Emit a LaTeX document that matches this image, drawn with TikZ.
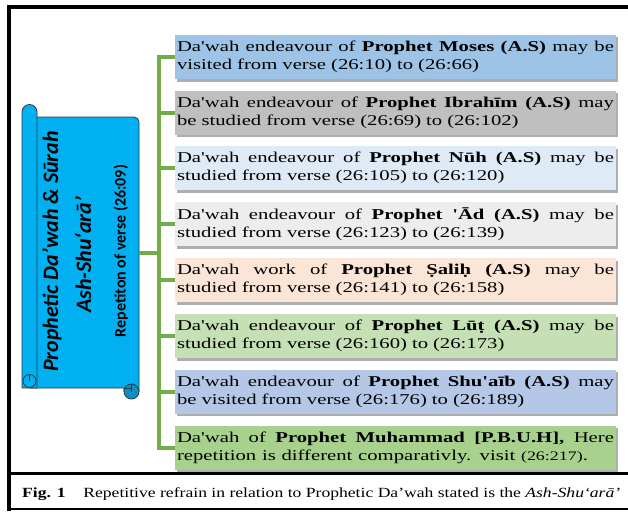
\documentclass[tikz,border=0pt]{standalone}
\usepackage{fontspec}
\usepackage{graphicx}
\usetikzlibrary{shadows}
\newfontfamily\boxfont[FakeStretch=1.38]{Liberation Serif}
\newfontfamily\capfont{Liberation Serif}
\newfontfamily\scrollfont{Carlito}
\newcommand{\fullline}[1]{\makebox[437pt][s]{\spaceskip=0pt\relax\xspaceskip=0pt\relax #1}}
\newcommand{\partline}[2]{\makebox[#1][s]{\spaceskip=0pt\relax\xspaceskip=0pt\relax #2}}
\definecolor{cA}{HTML}{9DC3E6}
\definecolor{cB}{HTML}{BFBFBF}
\definecolor{cC}{HTML}{DEEBF7}
\definecolor{cD}{HTML}{EDEDED}
\definecolor{cE}{HTML}{FBE5D6}
\definecolor{cF}{HTML}{C5E0B4}
\definecolor{cG}{HTML}{B4C7E7}
\definecolor{cH}{HTML}{A9D18E}
\definecolor{connG}{HTML}{70AD47}
\definecolor{scrollC}{HTML}{00B0F0}
\definecolor{scrollD}{HTML}{0A8FC8}
\definecolor{scrollL}{HTML}{2E3A46}
\begin{document}
\begin{tikzpicture}[x=1pt,y=-1pt,
  box/.style={minimum width=441pt, minimum height=44pt, text width=437pt,
    inner sep=2pt, align=left, font=\boxfont\fontsize{15}{18}\selectfont,
    drop shadow={shadow xshift=2pt, shadow yshift=-2.5pt, opacity=0.45, fill=black!70}},
  conn/.style={draw=connG, line width=4pt},
  scrollst/.style={fill=scrollC, draw=scrollL, line width=0.8pt},
  frameline/.style={draw=black, line width=3.5pt}]
\useasboundingbox (0,0) rectangle (628,511);
% frame
\draw[frameline] (9,511) -- (9,7) -- (628,7);
\draw[frameline] (9,473.5) -- (628,473.5);
\draw[draw=black, line width=2.5pt] (9,509) -- (628,509);
% scroll
\filldraw[scrollst] (37,117) -- (134,117) arc(-90:0:5) -- (139,391.5) -- (124,391.5) -- (124,388) -- (30,388) -- (30,117) -- cycle;
\filldraw[scrollst] (22,388) -- (22,112) arc(180:360:7.5) -- (37,388) -- cycle;
\filldraw[scrollst] (29.5,381) circle[radius=6.5];
\draw[scrollL, line width=0.7pt] (29.5,381) -- (29.5,374.5);
\filldraw[fill=scrollD, draw=scrollL, line width=0.8pt] (131.5,391.5) circle[radius=7.5];
\draw[scrollL, line width=0.7pt] (131.5,391.5) -- (131.5,384) (124,388) -- (131.5,388);
\node[rotate=90, inner sep=0, font=\scrollfont\bfseries\itshape\fontsize{22}{26}\selectfont] (t1) at (52,251.5) {Prophetic Da’wah \& Sūrah};
\node[rotate=90, inner sep=0, font=\scrollfont\bfseries\itshape\fontsize{22}{26}\selectfont] (t2) at (83,255) {Ash-Shu‘arā’};
\node[rotate=90, inner sep=0, font=\scrollfont\bfseries\fontsize{16}{19}\selectfont] (t3) at (121,251) {Repetiton of verse (26:09)};
\coordinate (sr) at (139,252.5);
\coordinate (trunk) at (158.5,252.5);
% boxes
\node[box, fill=cA] (b1) at (395.5,57) {\fullline{Da'wah endeavour of \textbf{Prophet Moses (A.S)} may be}\\visited from verse (26:10) to (26:66)};
\node[box, fill=cB] (b2) at (395.5,112.5) {\fullline{Da'wah endeavour of \textbf{Prophet Ibrahīm (A.S)} may}\\be studied from verse (26:69) to (26:102)};
\node[box, fill=cC] (b3) at (395.5,168) {\fullline{Da'wah endeavour of \textbf{Prophet Nūh (A.S)} may be}\\studied from verse (26:105) to (26:120)};
\node[box, fill=cD] (b4) at (395.5,224) {\fullline{Da'wah endeavour of \textbf{Prophet 'Ād (A.S)} may be}\\studied from verse (26:123) to (26:139)};
\node[box, fill=cE] (b5) at (395.5,280) {\fullline{Da'wah work of \textbf{Prophet Ṣaliḥ (A.S)} may be}\\studied from verse (26:141) to (26:158)};
\node[box, fill=cF] (b6) at (395.5,336) {\fullline{Da'wah endeavour of \textbf{Prophet Lūṭ (A.S)} may be}\\studied from verse (26:160) to (26:173)};
\node[box, fill=cG] (b7) at (395.5,391.5) {\fullline{Da'wah endeavour of \textbf{Prophet Shu'aīb (A.S)} may}\\be visited from verse (26:176) to (26:189)};
\node[box, fill=cH] (b8) at (395.5,447.5) {\fullline{Da'wah of \textbf{Prophet Muhammad [P.B.U.H],} Here}\\\partline{411pt}{repetition is different comparativly. visit {\fontsize{13}{18}\selectfont(26:217)}.}};
% connectors
\draw[conn] (sr) -- (trunk);
\draw[conn] (b1.west) -- (b1.west -| trunk) -- (b8.west -| trunk) -- (b8.west);
\foreach \b in {b2,b3,b4,b5,b6,b7}{\draw[conn] (\b.west) -- (\b.west -| trunk);}
% caption
\node[anchor=base west, inner sep=0] (cap) at (22,497) {\resizebox{598pt}{\height}{\capfont\fontsize{14}{16}\selectfont\textbf{Fig. 1}\hspace{1em}Repetitive refrain in relation to Prophetic Da’wah stated is the \textit{Ash-Shu‘arā’}}};
\end{tikzpicture}
\end{document}
